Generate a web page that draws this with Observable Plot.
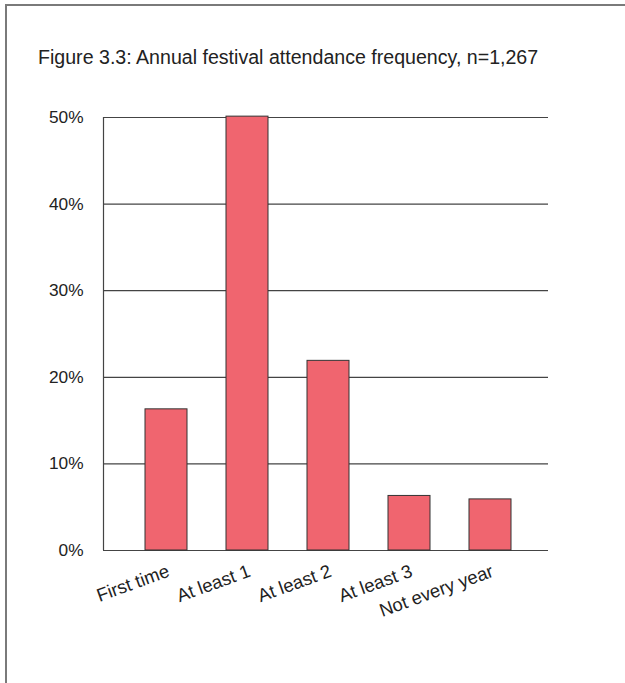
<!DOCTYPE html>
<html>
<head>
<meta charset="utf-8">
<script src="https://cdn.jsdelivr.net/npm/d3@7"></script>
<script src="https://cdn.jsdelivr.net/npm/@observablehq/plot@0.6"></script>
<style>
  html, body { margin: 0; padding: 0; background: #fff; }
  #frame {
    position: absolute; left: 5px; top: 4px; width: 640px; height: 700px;
    border-left: 2px solid #7a7a7a; border-top: 2px solid #7a7a7a;
  }
  #wrap { position: absolute; left: 0; top: 0; width: 625px; height: 683px; }
  #title {
    position: absolute; left: 38px; top: 46px;
    font-family: "Liberation Sans", Arial, sans-serif; font-size: 19.6px; color: #222;
    white-space: nowrap;
  }
  #chart { position: absolute; left: 0; top: 100px; }
  #chart svg text { font-size: 17.3px; fill: #222; }
  #chart svg g.xlab text { font-size: 18.4px; }
</style>
</head>
<body>
<div id="frame"></div>
<div id="wrap">
  <div id="title">Figure 3.3: Annual festival attendance frequency, n=1,267</div>
  <div id="chart"></div>
</div>
<script>
const categories = ["First time", "At least 1", "At least 2", "At least 3", "Not every year"];
const values = [16.3, 50.1, 21.9, 6.3, 5.9];
const yTicks = [0, 10, 20, 30, 40, 50];

const data = categories.map((c, i) => ({category: c, value: values[i]}));

const plot = Plot.plot({
  width: 625,
  height: 583,
  marginTop: 17,
  marginBottom: 133,
  marginLeft: 103,
  marginRight: 77,
  style: {fontFamily: "'Liberation Sans', Arial, sans-serif", fontSize: "17px", color: "#222", background: "transparent"},
  x: {domain: categories, paddingInner: 0.485, paddingOuter: 0.47, align: 0.535, label: null},
  y: {domain: [0, 50], label: null},
  marks: [
    Plot.ruleY(yTicks, {stroke: "#444", strokeWidth: 1.2, strokeOpacity: 1}),
    Plot.barY(data, {x: "category", y: "value", fill: "#f0656f", stroke: "#333", strokeWidth: 1}),
    Plot.axisY(yTicks, {tickSize: 0, tickPadding: 20, tickFormat: d => d + "%"}),
    Plot.axisX({tickSize: 0, tickPadding: 20, dx: 2, tickRotate: -20, className: "xlab"})
  ]
});

const y = plot.scale("y");
d3.select(plot).append("line")
  .attr("x1", 103.5).attr("x2", 103.5)
  .attr("y1", y.apply(0)).attr("y2", y.apply(50))
  .attr("stroke", "#444").attr("stroke-width", 1.2);

document.getElementById("chart").appendChild(plot);
</script>
</body>
</html>
